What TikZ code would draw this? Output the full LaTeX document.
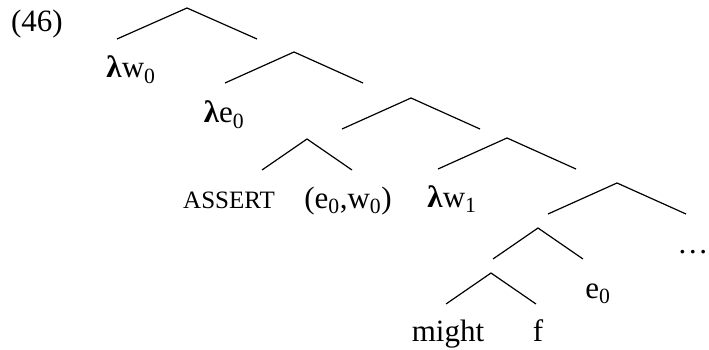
\documentclass[tikz,border=0pt]{standalone}
\usepackage{fontspec}
\setmainfont{Liberation Serif}
\begin{document}
\begin{tikzpicture}[x=1pt,y=-1pt,line width=1.2pt,
  lbl/.style={anchor=base,inner sep=0pt,font=\fontsize{31}{36}\selectfont},
  small/.style={anchor=base,inner sep=0pt,font=\fontsize{25}{28}\selectfont}]
\useasboundingbox (0,0) rectangle (709,350);
% branching points: name/apex x/apex y/half width
\foreach \n/\x/\y/\w in {a/187/8/70, b/294/52/69, c/411/98/69, d/307/139/45,
    e/507/138/69, f/617/183/69, g/538/228/45, h/491/273/45}{
  \coordinate (\n) at (\x,\y);
  \coordinate (\n l) at (\x-\w,\y+31);
  \coordinate (\n r) at (\x+\w,\y+31);
  \draw (\n l) -- (\n) -- (\n r);
}
\node[lbl] (ex) at (37,32) {(46)};
\node[lbl] (lw0) at (131,78) {\textbf{λ}w\textsubscript{0}};
\node[lbl] (le0) at (224,123) {\textbf{λ}e\textsubscript{0}};
\node[small] (assert) at (229,208) {ASSERT};
\node[lbl] (ew) at (348,208) {(e\textsubscript{0},w\textsubscript{0})};
\node[lbl] (lw1) at (452,207) {\textbf{λ}w\textsubscript{1}};
\node[lbl] (e0) at (598,298) {e\textsubscript{0}};
\node[lbl] (might) at (448,341) {might};
\node[lbl] (fn) at (538,341) {f};
\node[lbl,anchor=base east] (dots) at (709,253) {\dots};
\end{tikzpicture}
\end{document}
